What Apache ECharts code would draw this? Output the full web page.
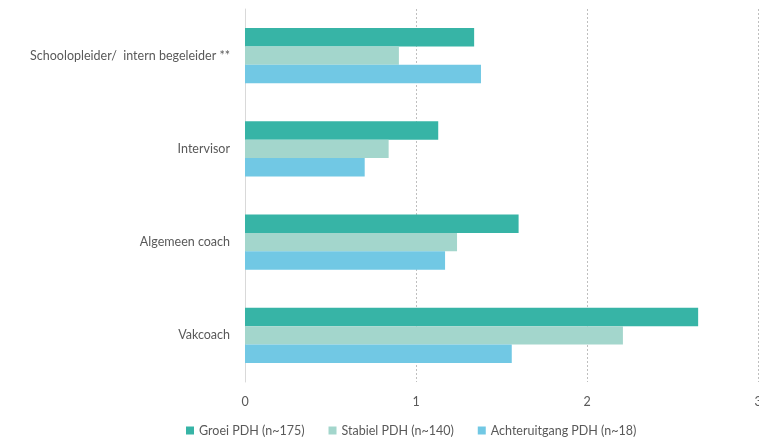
<!DOCTYPE html>
<html><head><meta charset="utf-8">
<script src="https://cdn.jsdelivr.net/npm/echarts@6/dist/echarts.min.js"></script>
<style>html,body{margin:0;padding:0;background:#fff;overflow:hidden}#c{width:759px;height:437px}</style>
</head><body><div id="c"></div>
<script>
const categories = ['Schoolopleider/  intern begeleider **', 'Intervisor', 'Algemeen coach', 'Vakcoach'];
const seriesNames = ['Groei PDH (n~175)', 'Stabiel PDH (n~140)', 'Achteruitgang PDH (n~18)'];
const groei = [1.34, 1.13, 1.60, 2.65];
const stabiel = [0.90, 0.84, 1.24, 2.21];
const achteruitgang = [1.38, 0.70, 1.17, 1.56];
const xTicks = [0, 1, 2, 3];

const colors = ['#37b4a6', '#a3d6cc', '#71c8e4'];
const font = 'Lato, "Open Sans", sans-serif';
const chart = echarts.init(document.getElementById('c'), null, {renderer: 'canvas'});
chart.setOption({
  animation: false,
  textStyle: {fontFamily: font},
  grid: {left: 245, right: 1, top: 9, bottom: 55, containLabel: false, outerBoundsMode: 'none'},
  legend: {
    data: seriesNames, left: 181, top: 419, itemWidth: 8, itemHeight: 8, itemGap: 24,
    icon: 'rect',
    textStyle: {color: '#595959', fontSize: 12.5, fontFamily: font}
  },
  xAxis: {
    type: 'value', min: xTicks[0], max: xTicks[xTicks.length - 1], interval: 1,
    axisLine: {show: false}, axisTick: {show: false},
    axisLabel: {color: '#595959', fontSize: 12.5, margin: 13, fontFamily: font},
    splitLine: {show: true, lineStyle: {color: '#bfbfbf', type: [2, 2], width: 1}}
  },
  yAxis: {
    type: 'category', data: categories, inverse: true,
    axisLine: {show: true, lineStyle: {color: '#d9d9d9', width: 1}},
    axisTick: {show: false},
    axisLabel: {color: '#595959', fontSize: 12.5, margin: 15, fontFamily: font}
  },
  series: [
    {name: seriesNames[0], type: 'bar', data: groei, barGap: '0%', barCategoryGap: '41%', itemStyle: {color: colors[0]}},
    {name: seriesNames[1], type: 'bar', data: stabiel, barGap: '0%', barCategoryGap: '41%', itemStyle: {color: colors[1]}},
    {name: seriesNames[2], type: 'bar', data: achteruitgang, barGap: '0%', barCategoryGap: '41%', itemStyle: {color: colors[2]}}
  ]
});
</script></body></html>
